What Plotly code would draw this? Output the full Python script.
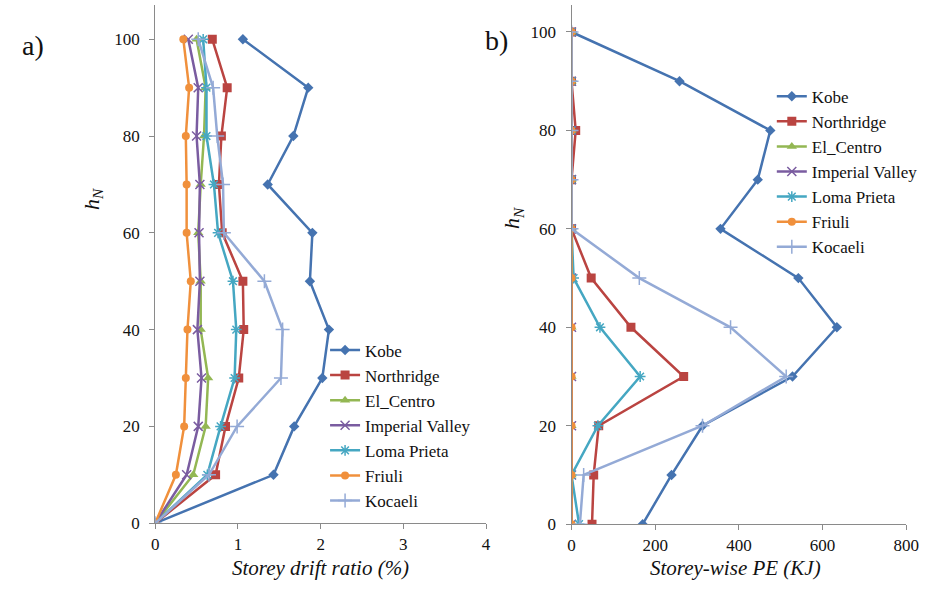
import plotly.graph_objects as go

W, H = 937, 603

heights = [0, 10, 20, 30, 40, 50, 60, 70, 80, 90, 100]
names = ["Kobe", "Northridge", "El_Centro", "Imperial Valley", "Loma Prieta", "Friuli", "Kocaeli"]

# a) Storey drift ratio (%)
drift_kobe = [0, 1.43, 1.68, 2.02, 2.10, 1.87, 1.90, 1.36, 1.67, 1.85, 1.06]
drift_northridge = [0, 0.73, 0.85, 1.01, 1.07, 1.06, 0.81, 0.77, 0.80, 0.87, 0.69]
drift_elcentro = [0, 0.46, 0.61, 0.64, 0.55, 0.55, 0.52, 0.55, 0.59, 0.61, 0.50]
drift_imperial = [0, 0.38, 0.52, 0.56, 0.51, 0.54, 0.53, 0.54, 0.50, 0.52, 0.40]
drift_loma = [0, 0.63, 0.79, 0.96, 0.98, 0.94, 0.76, 0.71, 0.62, 0.62, 0.58]
drift_friuli = [0, 0.25, 0.35, 0.37, 0.39, 0.43, 0.38, 0.38, 0.37, 0.41, 0.34]
drift_kocaeli = [0, 0.65, 0.99, 1.52, 1.54, 1.32, 0.83, 0.82, 0.75, 0.70, 0.52]

# b) Storey-wise PE (KJ)
pe_kobe = [170, 239, 313, 528, 634, 542, 356, 445, 475, 258, 0]
pe_northridge = [49, 53, 65, 268, 142, 47, 0, 0, 10, 0, 0]
pe_elcentro = [0, 0, 0, 0, 0, 0, 0, 0, 0, 0, 0]
pe_imperial = [0, 0, 0, 0, 0, 0, 0, 0, 0, 0, 0]
pe_loma = [18, 0, 63, 164, 68, 5, 0, 0, 0, 0, 0]
pe_friuli = [0, 0, 0, 0, 0, 0, 0, 0, 0, 0, 0]
pe_kocaeli = [20, 29, 313, 513, 380, 162, 0, 0, 0, 0, 0]

drift_series = [drift_kobe, drift_northridge, drift_elcentro, drift_imperial, drift_loma, drift_friuli, drift_kocaeli]
pe_series = [pe_kobe, pe_northridge, pe_elcentro, pe_imperial, pe_loma, pe_friuli, pe_kocaeli]

colors = ["#4573B0", "#BA4441", "#93B753", "#7A5CA0", "#45A7C2", "#F0903C", "#94AAD6"]
symbols = ["diamond", "square", "triangle-up", "x-thin-open", "asterisk-open", "circle", "cross-thin-open"]
sizes = [8, 9, 9, 9, 9, 8, 10]

FONT = "Liberation Serif, Times New Roman, Times, DejaVu Serif, serif"

fig = go.Figure()
for i, n in enumerate(names):
    open_sym = symbols[i].endswith("open")
    mk = dict(symbol=symbols[i], size=sizes[i], color=colors[i],
              line=dict(color=colors[i], width=1.5 if open_sym else 0))
    fig.add_trace(go.Scatter(x=drift_series[i], y=heights, name=n, mode="lines+markers",
                             line=dict(color=colors[i], width=2.5), marker=mk,
                             xaxis="x", yaxis="y", legend="legend"))
for i, n in enumerate(names):
    open_sym = symbols[i].endswith("open")
    mk = dict(symbol=symbols[i], size=sizes[i], color=colors[i],
              line=dict(color=colors[i], width=1.5 if open_sym else 0))
    fig.add_trace(go.Scatter(x=pe_series[i], y=heights, name=n, mode="lines+markers",
                             line=dict(color=colors[i], width=2.5), marker=mk,
                             xaxis="x2", yaxis="y2", legend="legend2"))

def px(xp):
    return xp / W

def py(yp):
    return 1 - yp / H

axis_common = dict(showline=True, linecolor="#8a8a8a", linewidth=1, ticks="outside",
                   ticklen=5, tickcolor="#8a8a8a", showgrid=False, zeroline=False,
                   tickfont=dict(family=FONT, size=17, color="#111"))

def ann(text, x, y, size, angle=0):
    return dict(text=text, x=px(x), y=py(y), xref="paper", yref="paper", showarrow=False,
                xanchor="center", yanchor="middle", textangle=angle,
                font=dict(family=FONT, size=size, color="#111"))

fig.update_layout(
    width=W, height=H, margin=dict(l=0, r=0, t=0, b=0),
    paper_bgcolor="white", plot_bgcolor="white",
    font=dict(family=FONT, size=17, color="#111"),
    xaxis=dict(domain=[px(154), px(491)], range=[0, 4], dtick=1, anchor="y", **axis_common),
    yaxis=dict(domain=[py(532), py(5)], range=[0, 107.1], dtick=20, anchor="x",
               ticklabelstandoff=6, **axis_common),
    xaxis2=dict(domain=[px(578), px(919)], range=[0, 800], dtick=200, anchor="y2", **axis_common),
    yaxis2=dict(domain=[py(533), py(5)], range=[0, 105.5], dtick=20, anchor="x2",
                ticklabelstandoff=6, **axis_common),
    legend=dict(x=px(327), y=py(338), xanchor="left", yanchor="top",
                bgcolor="rgba(0,0,0,0)", font=dict(family=FONT, size=17, color="#111")),
    legend2=dict(x=px(782), y=py(80), xanchor="left", yanchor="top",
                 bgcolor="rgba(0,0,0,0)", font=dict(family=FONT, size=17, color="#111")),
    annotations=[
        ann("a)", 30, 46, 28),
        ann("b)", 502, 41, 28),
        ann("<i>h<sub>N</sub></i>", 90, 202, 22, -90),
        ann("<i>h<sub>N</sub></i>", 519, 222, 22, -90),
        ann("<i>Storey drift ratio (%)</i>", 322, 578, 21),
        ann("<i>Storey-wise PE (KJ)</i>", 745, 578, 21),
    ],
)

fig.write_html("out.html")
